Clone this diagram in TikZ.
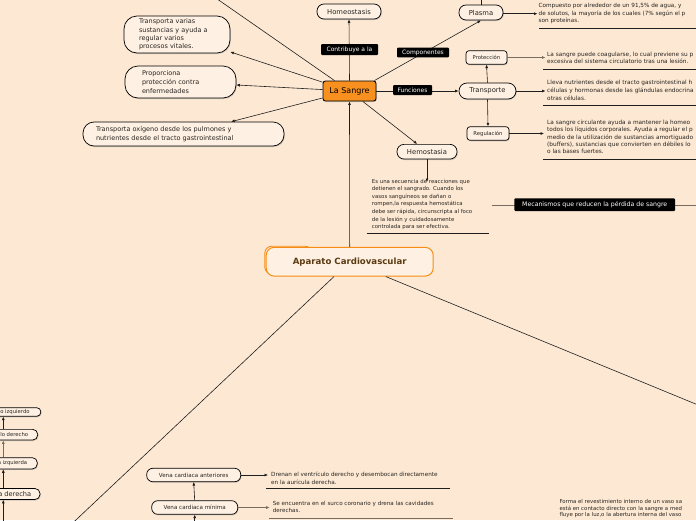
\documentclass[tikz,border=0pt]{standalone}
\usepackage{fontspec}
\setmainfont{DejaVu Sans}
\usetikzlibrary{arrows.meta,shadows,calc}
\definecolor{bg}{RGB}{253,233,211}
\definecolor{nodefill}{RGB}{254,241,227}
\definecolor{orng}{RGB}{247,144,30}
\definecolor{orbd}{RGB}{246,140,20}
\definecolor{brn}{RGB}{92,58,18}
\definecolor{txt}{RGB}{40,36,32}
\definecolor{ln}{RGB}{30,30,30}
\definecolor{gln}{RGB}{120,108,96}
\newcommand\myfs[2]{\fontsize{#1}{#2}\selectfont}
\tikzset{
  pill/.style={draw=black, line width=0.7pt, fill=nodefill, inner sep=0pt, text=txt,
    drop shadow={shadow xshift=0.8pt, shadow yshift=-1pt, opacity=0.35}},
  lab/.style={fill=black, text=white, rounded corners=1pt, inner sep=0pt, font=\myfs{6}{7}},
  info/.style={anchor=north west, inner sep=0pt, align=left, text=txt},
  conn/.style={draw=ln, line width=0.6pt},
  arr/.style={conn, -{Latex[length=3.5pt,width=3pt]}},
  garr/.style={draw=gln, line width=1pt, -{Latex[length=3.5pt,width=3pt]}},
  ul/.style={draw=ln, line width=0.9pt},
  gul/.style={draw=gln, line width=1.2pt}
}
\begin{document}
\begin{tikzpicture}[x=1pt,y=-1pt]
\useasboundingbox (0,0) rectangle (696,520);
\fill[bg] (0,0) rectangle (696,520);
\clip (0,0) rectangle (696,520);

% free ends
\coordinate (tl) at (210,-6);
\coordinate (plup) at (481,-2);
\coordinate (bl) at (60,535);
\coordinate (br) at (720,414);
\coordinate (mecL) at (491.5,205);
\coordinate (mecR) at (700,205);
\coordinate (colin) at (3.3,525);
\coordinate (minin) at (194.7,525);

% main nodes
\node[pill, rounded corners=7pt, minimum width=64pt, minimum height=15pt, font=\myfs{6.8}{8}] (homeo) at (349,11.5) {Homeostasis};
\node[pill, rounded corners=7pt, minimum width=44pt, minimum height=15pt, font=\myfs{6.8}{8}] (plasma) at (481,12.5) {Plasma};
\node[draw=black, line width=0.9pt, fill=orng, rounded corners=2.5pt, inner sep=0pt, minimum width=53pt, minimum height=20pt, font=\myfs{8}{9}, text=black,
  drop shadow={shadow xshift=0.8pt, shadow yshift=-1pt, opacity=0.35}] (sangre) at (349.5,91) {La Sangre};
\node[pill, rounded corners=8pt, minimum width=57pt, minimum height=16pt, font=\myfs{6.8}{8}] (transp) at (487.5,91) {Transporte};
\node[pill, rounded corners=3pt, minimum width=41pt, minimum height=13.6pt, font=\myfs{5.3}{6}] (prot) at (486.5,57.5) {Protección};
\node[pill, rounded corners=3pt, minimum width=42pt, minimum height=13.6pt, font=\myfs{5.3}{6}] (regul) at (488,133.5) {Regulación};
\node[pill, rounded corners=7pt, minimum width=60pt, minimum height=14.7pt, font=\myfs{6.8}{8}] (hemo) at (427,151.7) {Hemostasia};

\node[pill, rounded corners=13pt, minimum width=106pt, minimum height=37pt, text width=76pt, align=left, font=\myfs{6.5}{8.4}] (n1) at (177,34.5) {Transporta varias\\sustancias y ayuda a\\regular varios\\procesos vitales.};
\node[pill, rounded corners=13pt, minimum width=111pt, minimum height=32pt, text width=77pt, align=left, font=\myfs{6.5}{8.6}] (n2) at (180.5,82) {Proporciona\\protección contra\\enfermedades};
\node[pill, rounded corners=11pt, minimum width=201pt, minimum height=24pt, text width=175pt, align=left, font=\myfs{6.5}{9}] (n3) at (183.5,134) {Transporta oxígeno desde los pulmones y\\nutrientes desde el tracto gastrointestinal};

% central topic
\draw[orbd, line width=0.9pt, fill=nodefill, rounded corners=7pt] (264.8,246.2) rectangle (312,274);
\node[draw=orbd, line width=1pt, fill=nodefill, rounded corners=8pt, inner sep=0pt, minimum width=167pt, minimum height=28.7pt, font=\bfseries\myfs{8.6}{10}, text=brn] (apar) at (349.7,261.7) {Aparato Cardiovascular};

% bottom centre
\node[pill, rounded corners=6pt, minimum width=94pt, minimum height=13.4pt, font=\myfs{5.6}{7}] (ant) at (193.7,475) {Vena cardiaca anteriores};
\node[pill, rounded corners=6pt, minimum width=86pt, minimum height=13.6pt, font=\myfs{5.6}{7}] (mini) at (194.7,507.5) {Vena cardiaca mínima};

% left column (cut by the picture's left edge, as in the reference)
\node[pill, rounded corners=4pt, minimum width=75pt, minimum height=8.6pt, font=\myfs{5.3}{6}] (ca) at (3.3,412) {Ventrículo izquierdo};
\node[pill, rounded corners=5pt, minimum width=68.8pt, minimum height=10.7pt, font=\myfs{5.3}{6}] (cb) at (3.3,434.7) {Ventrículo derecho};
\node[pill, rounded corners=5pt, minimum width=68pt, minimum height=11.3pt, font=\myfs{5.3}{6}] (cc) at (3.3,463.3) {Aurícula izquierda};
\node[pill, rounded corners=5pt, minimum width=73.4pt, minimum height=11pt, font=\myfs{6.6}{7.5}] (cd) at (3.3,494) {Aurícula derecha};

% info texts
\node[info, font=\myfs{5.7}{7.5}] (tpla) at (538.5,3) {Compuesto por alrededor de un 91,5\% de agua, y\\de solutos, la mayoría de los cuales (7\% según el p\\son proteínas.};
\node[info, font=\myfs{5.8}{7.3}] (tprot) at (547,52) {La sangre puede coagularse, lo cual previene su p\\excesiva del sistema circulatorio tras una lesión.};
\node[info, font=\myfs{5.8}{7.8}] (ttra) at (547,80) {Lleva nutrientes desde el tracto gastrointestinal h\\células y hormonas desde las glándulas endocrina\\otras células.};
\node[info, font=\myfs{5.8}{7.2}] (treg) at (547,120) {La sangre circulante ayuda a mantener la homeo\\todos los líquidos corporales. Ayuda a regular el p\\medio de la utilización de sustancias amortiguado\\(buffers), sustancias que convierten en débiles lo\\o las bases fuertes.};
\node[info, font=\myfs{5.4}{7.55}] (themo) at (371.7,179) {Es una secuencia de reacciones que\\detienen el sangrado. Cuando los\\vasos sanguíneos se dañan o\\rompen,la respuesta hemostática\\debe ser rápida, circunscripta al foco\\de la lesión y cuidadosamente\\controlada para ser efectiva.};
\node[info, font=\myfs{5.7}{8}] (tant) at (271,471.5) {Drenan el ventrículo derecho y desembocan directamente\\en la aurícula derecha.};
\node[info, font=\myfs{5.6}{6.8}] (tmin) at (272.7,501.5) {Se encuentra en el surco coronario y drena las cavidades\\derechas.};
\node[info, font=\myfs{5.4}{6.6}] (tfor) at (559.3,499.3) {Forma el revestimiento interno de un vaso sa\\está en contacto directo con la sangre a med\\fluye por la luz,o la abertura interna del vaso};

% underlines
\draw[ul] (539,28.3) -- (700,28.3);
\draw[ul] (543,69.3) -- (700,69.3);
\draw[ul] (543,105.3) -- (700,105.3);
\draw[ul] (543,159.3) -- (700,159.3);
\draw[ul] (366.7,233.3) -- (488.7,233.3);
\draw[ul] (266,488.7) -- (450,488.7);
\draw[gul] (269,518.3) -- (453.3,518.3);

% connectors
\draw[conn] (tl) -- (sangre);
\draw[conn] (plasma.north) -- (plup);
\draw[arr] (sangre) -- (n1);
\draw[arr] (sangre) -- (n2);
\draw[arr] (sangre) -- (n3);
\draw[arr] (sangre.north) -- (homeo.south);
\draw[arr] ([xshift=-2pt]sangre.north east) -- (plasma.south);
\draw[arr] (sangre.east) -- (transp.west);
\draw[arr] (sangre) -- (hemo);
\draw[arr] (transp.north) -- (prot.south);
\draw[arr] (transp.south) -- (regul.north);
\draw[arr, shorten >=1pt] ([yshift=-1.2pt]plasma.east) -- ([yshift=-1.2pt]plasma.east -| tpla.west);
\draw[garr, shorten >=1.5pt] (prot.east) -- (prot.east -| tprot.west);
\draw[arr, shorten >=1.5pt] (transp.east) -- (transp.east -| ttra.west);
\draw[arr, shorten >=3pt] (regul.east) -- (regul.east -| treg.west);
\draw[arr] (hemo.south) -- ([yshift=-3pt]hemo.south |- themo.north);
\draw[garr] (mecL) -- (mecR);
\draw[arr] (apar.north) -- (sangre.south);
\draw[conn] (apar) -- (bl);
\draw[conn] (apar) -- (br);
\draw[arr] (mini.north) -- (ant.south);
\draw[arr] (minin) -- (mini.south);
\draw[arr] (ant.east) -- ([xshift=-3pt]ant.east -| tant.west);
\draw[garr] (mini.east) -- ([xshift=-3pt]mini.east -| tmin.west);
\draw[arr] (cb.north) -- (ca.south);
\draw[garr] (cc.north) -- (cb.south);
\draw[arr] (cd.north) -- (cc.south);
\draw[arr] (colin) -- (cd.south);

% labels
\node[lab, minimum width=57pt, minimum height=11pt] (lcon) at (349.5,49.5) {Contribuye a la};
\node[lab, minimum width=52pt, minimum height=9.7pt] (lcom) at (423,52.5) {Componentes};
\node[lab, minimum width=39pt, minimum height=10pt] (lfun) at (412.5,90) {Funciones};
\node[lab, minimum width=160.7pt, minimum height=12.7pt, font=\myfs{6.2}{7}] (lmec) at (594.7,204.7) {Mecanismos que reducen la pérdida de sangre};
\end{tikzpicture}
\end{document}
